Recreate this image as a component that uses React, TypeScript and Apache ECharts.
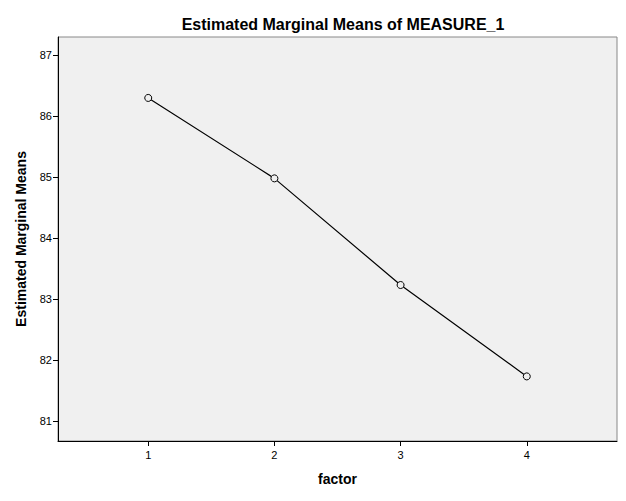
import React, { useEffect, useRef } from "react";
import * as echarts from "echarts";

const factorLevels = [1, 2, 3, 4];
const meanValues = [86.3, 84.98, 83.23, 81.73];
const yTicks = [81, 82, 83, 84, 85, 86, 87];

export default function App() {
  const ref = useRef<HTMLDivElement>(null);
  useEffect(() => {
    const chart = echarts.init(ref.current!, null, { renderer: "svg" });
    const font = "'Liberation Sans', Arial, sans-serif";
    chart.setOption({
      animation: false,
      backgroundColor: "#ffffff",
      title: {
        text: "Estimated Marginal Means of MEASURE_1",
        left: 338,
        textAlign: "center",
        top: 11,
        textStyle: { fontFamily: font, fontSize: 16, fontWeight: "bold", color: "#000" },
      },
      grid: {
        left: 58,
        right: 9,
        top: 37,
        bottom: 60,
        show: true,
        backgroundColor: "#f0f0f0",
        borderColor: "#888888",
        borderWidth: 1,
      },
      xAxis: {
        type: "value",
        min: 0.285,
        max: 4.715,
        name: "factor",
        nameLocation: "middle",
        nameGap: 31,
        nameTextStyle: { fontFamily: font, fontSize: 14, fontWeight: "bold", color: "#000" },
        axisLine: { show: true, lineStyle: { color: "#000", width: 1 } },
        axisTick: { show: true, length: 5, lineStyle: { color: "#000" }, customValues: factorLevels },
        axisLabel: { fontFamily: font, fontSize: 11, color: "#000", margin: 8, customValues: factorLevels },
        splitLine: { show: false },
      },
      yAxis: {
        type: "value",
        min: 80.67,
        max: 87.3,
        name: "Estimated Marginal Means",
        nameLocation: "middle",
        nameGap: 30,
        nameTextStyle: { fontFamily: font, fontSize: 14, fontWeight: "bold", color: "#000" },
        axisLine: { show: true, lineStyle: { color: "#000", width: 1 } },
        axisTick: { show: true, length: 5, lineStyle: { color: "#000" }, customValues: yTicks },
        axisLabel: { fontFamily: font, fontSize: 11, color: "#000", margin: 6, customValues: yTicks },
        splitLine: { show: false },
      },
      series: [
        {
          type: "line",
          data: factorLevels.map((f, i) => [f, meanValues[i]]),
          symbol: "circle",
          symbolSize: 7,
          itemStyle: { color: "#f0f0f0", borderColor: "#000", borderWidth: 1 },
          lineStyle: { color: "#000", width: 1.2 },
        },
      ],
    });
    return () => chart.dispose();
  }, []);
  return <div ref={ref} style={{ position: "absolute", left: 0, top: 0, width: 626, height: 501 }} />;
}
